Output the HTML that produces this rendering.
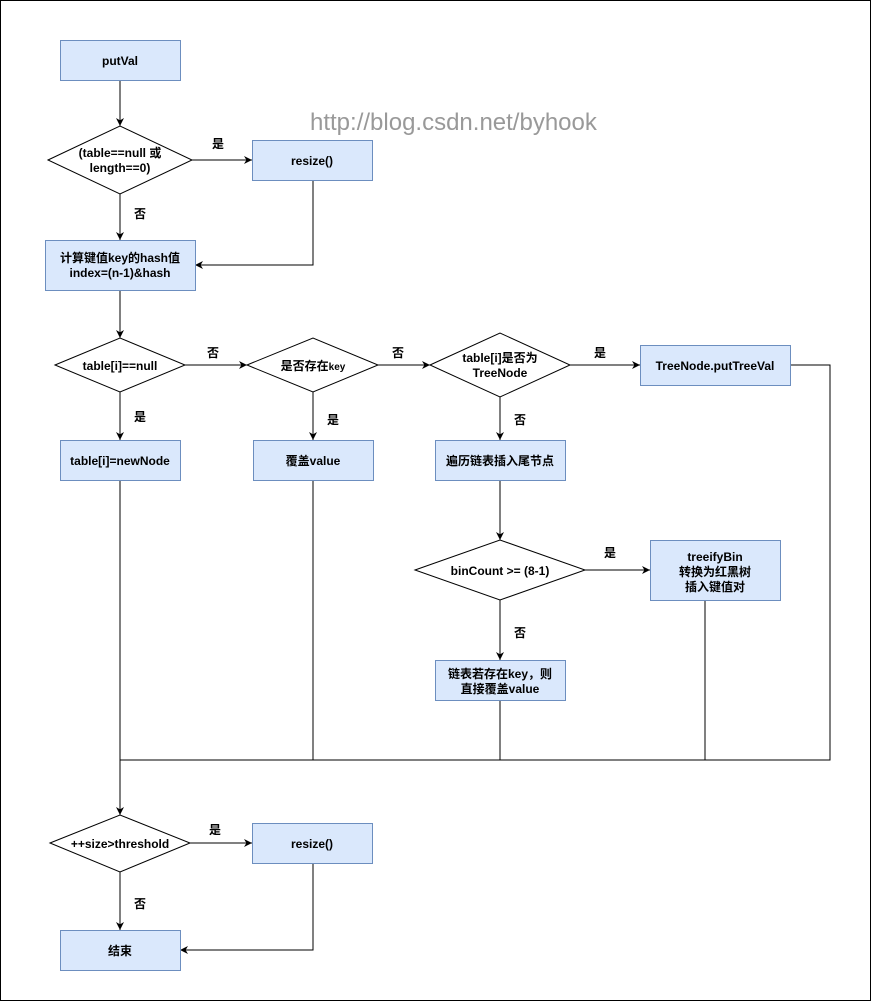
<!DOCTYPE html>
<html><head><meta charset="utf-8"><style>
html,body{margin:0;padding:0;background:#fff}
svg{display:block}
text{font-family:"Liberation Sans","Noto Sans CJK SC",sans-serif;font-size:12px;font-weight:bold;fill:#000}
.b{fill:#dae8fc;stroke:#6c8ebf;stroke-width:1}
.d{fill:#fff;stroke:#000;stroke-width:1}
.l{fill:none;stroke:#000;stroke-width:1}
</style></head><body>
<svg width="871" height="1001" viewBox="0 0 871 1001" xmlns="http://www.w3.org/2000/svg">
<defs><marker id="a" viewBox="0 0 10 10" refX="10" refY="5" markerWidth="8" markerHeight="8" orient="auto" markerUnits="userSpaceOnUse"><path d="M0,0 L10,5 L0,10 L3,5 z" fill="#000"/></marker></defs>
<rect x="0.5" y="0.5" width="870" height="1000" fill="#fff" stroke="#000"/>
<text x="310" y="130" style="font-size:24px;font-weight:normal;fill:#999">http://blog.csdn.net/byhook</text>

<!-- connectors -->
<path class="l" d="M120,80V126" marker-end="url(#a)"/>
<path class="l" d="M192,160H252" marker-end="url(#a)"/>
<path class="l" d="M120,194V240" marker-end="url(#a)"/>
<path class="l" d="M313,180V265H195" marker-end="url(#a)"/>
<path class="l" d="M120,290V338" marker-end="url(#a)"/>
<path class="l" d="M185,365H247" marker-end="url(#a)"/>
<path class="l" d="M378,365H430" marker-end="url(#a)"/>
<path class="l" d="M570,365H640" marker-end="url(#a)"/>
<path class="l" d="M120,392V440" marker-end="url(#a)"/>
<path class="l" d="M313,392V440" marker-end="url(#a)"/>
<path class="l" d="M500,397V440" marker-end="url(#a)"/>
<path class="l" d="M500,480V540" marker-end="url(#a)"/>
<path class="l" d="M585,570H650" marker-end="url(#a)"/>
<path class="l" d="M500,600V660" marker-end="url(#a)"/>
<path class="l" d="M790,365H830V760H120"/>
<path class="l" d="M120,480V760"/>
<path class="l" d="M313,480V760"/>
<path class="l" d="M500,700V760"/>
<path class="l" d="M705,600V760"/>
<path class="l" d="M120,760V815" marker-end="url(#a)"/>
<path class="l" d="M190,843H252" marker-end="url(#a)"/>
<path class="l" d="M120,872V930" marker-end="url(#a)"/>
<path class="l" d="M313,863V950H180" marker-end="url(#a)"/>

<!-- nodes -->
<rect class="b" x="60.5" y="40.5" width="120" height="40"/>
<text x="120" y="65" text-anchor="middle">putVal</text>
<polygon class="d" points="48,160 120,126 192,160 120,194"/>
<text x="120" y="157" text-anchor="middle">(table==null 或</text>
<text x="120" y="172" text-anchor="middle">length==0)</text>
<rect class="b" x="252.5" y="140.5" width="120" height="40"/>
<text x="312" y="165" text-anchor="middle">resize()</text>
<rect class="b" x="45.5" y="240.5" width="150" height="50"/>
<text x="120" y="262" text-anchor="middle">计算键值key的hash值</text>
<text x="120" y="277" text-anchor="middle">index=(n-1)&amp;hash</text>

<polygon class="d" points="55,365 120,338 185,365 120,392"/>
<text x="120" y="370" text-anchor="middle">table[i]==null</text>
<polygon class="d" points="247,365 313,338 378,365 313,392"/>
<text x="313" y="370" text-anchor="middle">是否存在<tspan style="font-size:10px">key</tspan></text>
<polygon class="d" points="430,365 500,333 570,365 500,397"/>
<text x="500" y="362" text-anchor="middle">table[i]是否为</text>
<text x="500" y="377" text-anchor="middle">TreeNode</text>
<rect class="b" x="640.5" y="345.5" width="150" height="40"/>
<text x="715" y="370" text-anchor="middle">TreeNode.putTreeVal</text>

<rect class="b" x="60.5" y="440.5" width="120" height="40"/>
<text x="120" y="465" text-anchor="middle">table[i]=newNode</text>
<rect class="b" x="253.5" y="440.5" width="120" height="40"/>
<text x="313" y="465" text-anchor="middle">覆盖value</text>
<rect class="b" x="435.5" y="440.5" width="130" height="40"/>
<text x="500" y="465" text-anchor="middle">遍历链表插入尾节点</text>

<polygon class="d" points="415,570 500,540 585,570 500,600"/>
<text x="500" y="575" text-anchor="middle">binCount &gt;= (8-1)</text>
<rect class="b" x="650.5" y="540.5" width="130" height="60"/>
<text x="715" y="561" text-anchor="middle">treeifyBin</text>
<text x="715" y="576" text-anchor="middle">转换为红黑树</text>
<text x="715" y="591" text-anchor="middle">插入键值对</text>
<rect class="b" x="435.5" y="660.5" width="130" height="40"/>
<text x="500" y="678" text-anchor="middle">链表若存在key，则</text>
<text x="500" y="693" text-anchor="middle">直接覆盖value</text>

<polygon class="d" points="50,843 120,815 190,843 120,872"/>
<text x="120" y="848" text-anchor="middle">++size&gt;threshold</text>
<rect class="b" x="252.5" y="823.5" width="120" height="40"/>
<text x="312" y="848" text-anchor="middle">resize()</text>
<rect class="b" x="60.5" y="930.5" width="120" height="40"/>
<text x="120" y="955" text-anchor="middle">结束</text>

<!-- labels -->
<text x="218" y="148" text-anchor="middle">是</text>
<text x="140" y="218" text-anchor="middle">否</text>
<text x="213" y="357" text-anchor="middle">否</text>
<text x="398" y="357" text-anchor="middle">否</text>
<text x="600" y="357" text-anchor="middle">是</text>
<text x="140" y="421" text-anchor="middle">是</text>
<text x="333" y="424" text-anchor="middle">是</text>
<text x="520" y="424" text-anchor="middle">否</text>
<text x="610" y="557" text-anchor="middle">是</text>
<text x="520" y="637" text-anchor="middle">否</text>
<text x="215" y="834" text-anchor="middle">是</text>
<text x="140" y="908" text-anchor="middle">否</text>
</svg>
</body></html>
